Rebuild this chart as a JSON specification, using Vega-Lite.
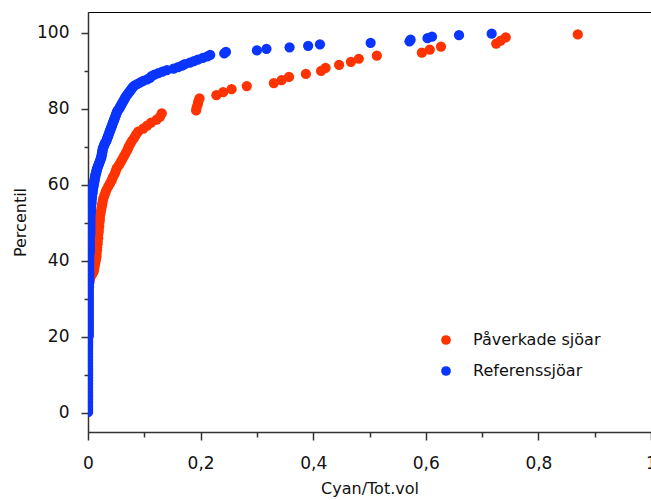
{
 "$schema": "https://vega.github.io/schema/vega-lite/v6.json",
 "width": 563, "height": 420,
 "autosize": "none",
 "padding": {"left": 88, "top": 12, "right": 0, "bottom": 68},
 "background": "white",
 "config": {
  "font": "DejaVu Sans",
  "view": {"stroke": "#000", "strokeWidth": 1},
  "axis": {"domainColor": "#333", "domainWidth": 1.5, "tickColor": "#333", "tickWidth": 1.5, "grid": false,
           "labelFontSize": 17, "labelColor": "#111", "titleFontSize": 16, "titleFontWeight": "normal", "titleColor": "#111",
           "labelFont": "DejaVu Sans", "titleFont": "DejaVu Sans", "labelOverlap": false}
 },
 "datasets": {
  "red": [
   {"x":0.870,"y":99.6},{"x":0.742,"y":98.8},{"x":0.733,"y":98.0},{"x":0.725,"y":97.2},{"x":0.627,"y":96.4},{"x":0.607,"y":95.6},{"x":0.593,"y":94.8},{"x":0.513,"y":94.0},{"x":0.481,"y":93.2},{"x":0.467,"y":92.4},
   {"x":0.446,"y":91.6},{"x":0.422,"y":90.8},{"x":0.414,"y":90.0},{"x":0.387,"y":89.2},{"x":0.357,"y":88.4},{"x":0.344,"y":87.6},{"x":0.330,"y":86.8},{"x":0.282,"y":86.0},{"x":0.255,"y":85.2},{"x":0.240,"y":84.4},
   {"x":0.228,"y":83.6},{"x":0.198,"y":82.8},{"x":0.196,"y":82.0},{"x":0.195,"y":81.2},{"x":0.193,"y":80.4},{"x":0.192,"y":79.6},{"x":0.131,"y":78.8},{"x":0.128,"y":78.0},{"x":0.122,"y":77.2},{"x":0.112,"y":76.4},
   {"x":0.105,"y":75.6},{"x":0.098,"y":74.8},{"x":0.089,"y":74.0},{"x":0.085,"y":73.2},{"x":0.082,"y":72.4},{"x":0.078,"y":71.6},{"x":0.075,"y":70.8},{"x":0.072,"y":70.0},{"x":0.070,"y":69.2},{"x":0.067,"y":68.4},
   {"x":0.064,"y":67.6},{"x":0.061,"y":66.8},{"x":0.058,"y":66.0},{"x":0.055,"y":65.2},{"x":0.051,"y":64.4},{"x":0.049,"y":63.6},{"x":0.047,"y":62.8},{"x":0.044,"y":62.0},{"x":0.042,"y":61.2},{"x":0.039,"y":60.4},
   {"x":0.036,"y":59.6},{"x":0.033,"y":58.8},{"x":0.031,"y":58.0},{"x":0.029,"y":57.2},{"x":0.027,"y":56.4},{"x":0.026,"y":55.6},{"x":0.025,"y":54.8},{"x":0.024,"y":54.0},{"x":0.023,"y":53.2},{"x":0.022,"y":52.4},
   {"x":0.021,"y":51.6},{"x":0.021,"y":50.8},{"x":0.020,"y":50.0},{"x":0.020,"y":49.2},{"x":0.019,"y":48.4},{"x":0.019,"y":47.6},{"x":0.018,"y":46.8},{"x":0.018,"y":46.0},{"x":0.017,"y":45.2},{"x":0.017,"y":44.4},
   {"x":0.016,"y":43.6},{"x":0.016,"y":42.8},{"x":0.015,"y":42.0},{"x":0.015,"y":41.2},{"x":0.014,"y":40.4},{"x":0.013,"y":39.6},{"x":0.012,"y":38.8},{"x":0.011,"y":38.0},{"x":0.010,"y":37.2},{"x":0.007,"y":36.4},
   {"x":0.004,"y":35.6},{"x":0.003,"y":34.8},{"x":0.002,"y":34.0},{"x":0.002,"y":33.2},{"x":0.001,"y":32.4},{"x":0.001,"y":31.6},{"x":0.001,"y":30.8},{"x":0.001,"y":30.0},{"x":0.001,"y":29.2},{"x":0.001,"y":28.4},
   {"x":0.001,"y":27.6},{"x":0.001,"y":26.8},{"x":0.001,"y":26.0},{"x":0.001,"y":25.2},{"x":0.001,"y":24.4},{"x":0.001,"y":23.6},{"x":0.001,"y":22.8},{"x":0.001,"y":22.0},{"x":0.001,"y":21.2},{"x":0.001,"y":20.4},
   {"x":0,"y":19.6},{"x":0,"y":18.8},{"x":0,"y":18.0},{"x":0,"y":17.2},{"x":0,"y":16.4},{"x":0,"y":15.6},{"x":0,"y":14.8},{"x":0,"y":14.0},{"x":0,"y":13.2},{"x":0,"y":12.4},
   {"x":0,"y":11.6},{"x":0,"y":10.8},{"x":0,"y":10.0},{"x":0,"y":9.2},{"x":0,"y":8.4},{"x":0,"y":7.6},{"x":0,"y":6.8},{"x":0,"y":6.0},{"x":0,"y":5.2},{"x":0,"y":4.4},
   {"x":0,"y":3.6},{"x":0,"y":2.8},{"x":0,"y":2.0},{"x":0,"y":1.2},{"x":0,"y":0.4}
  ],
  "blue": [
   {"x":0.717,"y":99.8},{"x":0.659,"y":99.4},{"x":0.611,"y":99.0},{"x":0.603,"y":98.6},{"x":0.573,"y":98.2},{"x":0.571,"y":97.8},{"x":0.502,"y":97.4},{"x":0.412,"y":97.0},{"x":0.391,"y":96.6},{"x":0.358,"y":96.2},
   {"x":0.317,"y":95.8},{"x":0.300,"y":95.4},{"x":0.245,"y":95.0},{"x":0.242,"y":94.6},{"x":0.217,"y":94.2},{"x":0.212,"y":93.8},{"x":0.204,"y":93.4},{"x":0.195,"y":93.0},{"x":0.188,"y":92.6},{"x":0.181,"y":92.2},
   {"x":0.172,"y":91.8},{"x":0.167,"y":91.4},{"x":0.160,"y":91.0},{"x":0.152,"y":90.6},{"x":0.140,"y":90.2},{"x":0.132,"y":89.8},{"x":0.125,"y":89.4},{"x":0.118,"y":89.0},{"x":0.113,"y":88.6},{"x":0.110,"y":88.2},
   {"x":0.105,"y":87.8},{"x":0.098,"y":87.4},{"x":0.093,"y":87.0},{"x":0.088,"y":86.6},{"x":0.083,"y":86.2},{"x":0.080,"y":85.8},{"x":0.078,"y":85.4},{"x":0.076,"y":85.0},{"x":0.074,"y":84.6},{"x":0.072,"y":84.2},
   {"x":0.070,"y":83.8},{"x":0.068,"y":83.4},{"x":0.066,"y":83.0},{"x":0.065,"y":82.6},{"x":0.063,"y":82.2},{"x":0.062,"y":81.8},{"x":0.060,"y":81.4},{"x":0.059,"y":81.0},{"x":0.057,"y":80.6},{"x":0.056,"y":80.2},
   {"x":0.054,"y":79.8},{"x":0.052,"y":79.4},{"x":0.051,"y":79.0},{"x":0.050,"y":78.6},{"x":0.049,"y":78.2},{"x":0.048,"y":77.8},{"x":0.047,"y":77.4},{"x":0.046,"y":77.0},{"x":0.045,"y":76.6},{"x":0.044,"y":76.2},
   {"x":0.043,"y":75.8},{"x":0.042,"y":75.4},{"x":0.041,"y":75.0},{"x":0.040,"y":74.6},{"x":0.039,"y":74.2},{"x":0.038,"y":73.8},{"x":0.037,"y":73.4},{"x":0.036,"y":73.0},{"x":0.035,"y":72.6},{"x":0.034,"y":72.2},
   {"x":0.033,"y":71.8},{"x":0.032,"y":71.4},{"x":0.030,"y":71.0},{"x":0.029,"y":70.6},{"x":0.028,"y":70.2},{"x":0.027,"y":69.8},{"x":0.026,"y":69.4},{"x":0.026,"y":69.0},{"x":0.025,"y":68.6},{"x":0.025,"y":68.2},
   {"x":0.024,"y":67.8},{"x":0.024,"y":67.4},{"x":0.023,"y":67.0},{"x":0.022,"y":66.6},{"x":0.021,"y":66.2},{"x":0.020,"y":65.8},{"x":0.019,"y":65.4},{"x":0.018,"y":65.0},{"x":0.017,"y":64.6},{"x":0.016,"y":64.2},
   {"x":0.015,"y":63.8},{"x":0.015,"y":63.4},{"x":0.014,"y":63.0},{"x":0.013,"y":62.6},{"x":0.013,"y":62.2},{"x":0.012,"y":61.8},{"x":0.012,"y":61.4},{"x":0.011,"y":61.0},{"x":0.011,"y":60.6},{"x":0.010,"y":60.2},
   {"x":0.010,"y":59.8},{"x":0.009,"y":59.4},{"x":0.009,"y":59.0},{"x":0.008,"y":58.6},{"x":0.008,"y":58.2},{"x":0.008,"y":57.8},{"x":0.007,"y":57.4},{"x":0.007,"y":57.0},{"x":0.007,"y":56.6},{"x":0.006,"y":56.2},
   {"x":0.006,"y":55.8},{"x":0.006,"y":55.4},{"x":0.006,"y":55.0},{"x":0.005,"y":54.6},{"x":0.005,"y":54.2},{"x":0.005,"y":53.8},{"x":0.005,"y":53.4},{"x":0.005,"y":53.0},{"x":0.005,"y":52.6},{"x":0.004,"y":52.2},
   {"x":0.004,"y":51.8},{"x":0.004,"y":51.4},{"x":0.004,"y":51.0},{"x":0.004,"y":50.6},{"x":0.004,"y":50.2},{"x":0.004,"y":49.8},{"x":0.004,"y":49.4},{"x":0.004,"y":49.0},{"x":0.004,"y":48.6},{"x":0.004,"y":48.2},
   {"x":0.004,"y":47.8},{"x":0.004,"y":47.4},{"x":0.004,"y":47.0},{"x":0.003,"y":46.6},{"x":0.003,"y":46.2},{"x":0.003,"y":45.8},{"x":0.003,"y":45.4},{"x":0.003,"y":45.0},{"x":0.003,"y":44.6},{"x":0.003,"y":44.2},
   {"x":0.003,"y":43.8},{"x":0.003,"y":43.4},{"x":0.003,"y":43.0},{"x":0.003,"y":42.6},{"x":0.003,"y":42.2},{"x":0.002,"y":41.8},{"x":0.002,"y":41.4},{"x":0.002,"y":41.0},{"x":0.002,"y":40.6},{"x":0.002,"y":40.2},
   {"x":0.002,"y":39.8},{"x":0.002,"y":39.4},{"x":0.002,"y":39.0},{"x":0.002,"y":38.6},{"x":0.002,"y":38.2},{"x":0.002,"y":37.8},{"x":0.002,"y":37.4},{"x":0.002,"y":37.0},{"x":0.002,"y":36.6},{"x":0.002,"y":36.2},
   {"x":0.002,"y":35.8},{"x":0.002,"y":35.4},{"x":0.002,"y":35.0},{"x":0.002,"y":34.6},{"x":0.002,"y":34.2},{"x":0.001,"y":33.8},{"x":0.001,"y":33.4},{"x":0.001,"y":33.0},{"x":0.001,"y":32.6},{"x":0.001,"y":32.2},
   {"x":0.001,"y":31.8},{"x":0.001,"y":31.4},{"x":0.001,"y":31.0},{"x":0.001,"y":30.6},{"x":0.001,"y":30.2},{"x":0.001,"y":29.8},{"x":0.001,"y":29.4},{"x":0.001,"y":29.0},{"x":0.001,"y":28.6},{"x":0.001,"y":28.2},
   {"x":0.001,"y":27.8},{"x":0.001,"y":27.4},{"x":0.001,"y":27.0},{"x":0.001,"y":26.6},{"x":0.001,"y":26.2},{"x":0.001,"y":25.8},{"x":0.001,"y":25.4},{"x":0.001,"y":25.0},{"x":0.001,"y":24.6},{"x":0.001,"y":24.2},
   {"x":0.001,"y":23.8},{"x":0.001,"y":23.4},{"x":0.001,"y":23.0},{"x":0.001,"y":22.6},{"x":0.001,"y":22.2},{"x":0.001,"y":21.8},{"x":0.001,"y":21.4},{"x":0.001,"y":21.0},{"x":0.001,"y":20.6},{"x":0.001,"y":20.2},
   {"x":0,"y":19.8},{"x":0,"y":19.4},{"x":0,"y":19.0},{"x":0,"y":18.6},{"x":0,"y":18.2},{"x":0,"y":17.8},{"x":0,"y":17.4},{"x":0,"y":17.0},{"x":0,"y":16.6},{"x":0,"y":16.2},
   {"x":0,"y":15.8},{"x":0,"y":15.4},{"x":0,"y":15.0},{"x":0,"y":14.6},{"x":0,"y":14.2},{"x":0,"y":13.8},{"x":0,"y":13.4},{"x":0,"y":13.0},{"x":0,"y":12.6},{"x":0,"y":12.2},
   {"x":0,"y":11.8},{"x":0,"y":11.4},{"x":0,"y":11.0},{"x":0,"y":10.6},{"x":0,"y":10.2},{"x":0,"y":9.8},{"x":0,"y":9.4},{"x":0,"y":9.0},{"x":0,"y":8.6},{"x":0,"y":8.2},
   {"x":0,"y":7.8},{"x":0,"y":7.4},{"x":0,"y":7.0},{"x":0,"y":6.6},{"x":0,"y":6.2},{"x":0,"y":5.8},{"x":0,"y":5.4},{"x":0,"y":5.0},{"x":0,"y":4.6},{"x":0,"y":4.2},
   {"x":0,"y":3.8},{"x":0,"y":3.4},{"x":0,"y":3.0},{"x":0,"y":2.6},{"x":0,"y":2.2},{"x":0,"y":1.8},{"x":0,"y":1.4},{"x":0,"y":1.0},{"x":0,"y":0.6},{"x":0,"y":0.2}
  ]
 },
 "encoding": {
  "x": {"field": "x", "type": "quantitative", "scale": {"domain": [0, 1], "nice": false, "zero": false},
        "axis": {"title": "Cyan/Tot.vol", "values": [0,0.1,0.2,0.3,0.4,0.5,0.6,0.7,0.8,0.9,1],
                 "labelExpr": "round(datum.value*10)%2==0 ? replace(format(datum.value,'~g'),'.',',') : ''",
                 "tickSize": {"condition": {"test": "round(datum.value*10)%2==0", "value": 8}, "value": 5},
                 "labelFlush": false, "labelPadding": 15, "titlePadding": 9}},
  "y": {"field": "y", "type": "quantitative", "scale": {"domain": [-5, 105.5], "nice": false, "zero": false},
        "axis": {"title": "Percentil", "values": [0,10,20,30,40,50,60,70,80,90,100],
                 "labelExpr": "datum.value%20==0 ? datum.label : ''",
                 "tickSize": {"condition": {"test": "datum.value%20==0", "value": 7}, "value": 4},
                 "labelPadding": 12, "titlePadding": 8}}
 },
 "layer": [
  {"data": {"name": "red"},
   "mark": {"type": "circle", "size": 105, "opacity": 1, "clip": true},
   "encoding": {"color": {"datum": "Påverkade sjöar", "type": "nominal",
      "scale": {"domain": ["Påverkade sjöar", "Referenssjöar"], "range": ["#ff3300", "#0a35ff"]},
      "legend": {"title": null, "orient": "none", "legendX": 350, "legendY": 320, "labelFontSize": 16, "labelColor": "#111",
                 "symbolSize": 95, "symbolType": "circle", "labelOffset": 19, "rowPadding": 15, "symbolStrokeWidth": 0}}}},
  {"data": {"name": "blue"},
   "mark": {"type": "circle", "size": 105, "opacity": 1, "clip": true},
   "encoding": {"color": {"datum": "Referenssjöar", "type": "nominal"}}}
 ]
}
